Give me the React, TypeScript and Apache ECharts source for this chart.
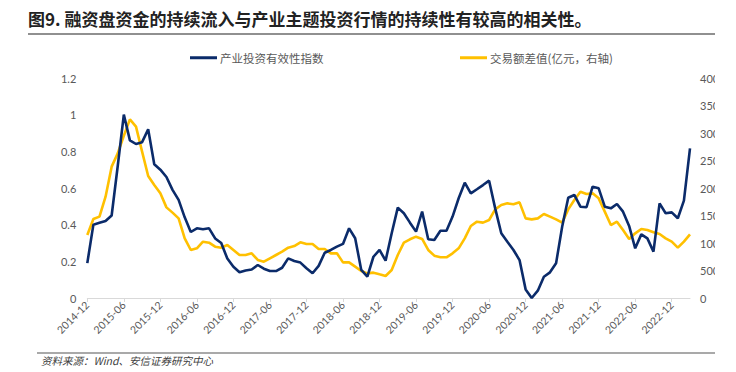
import React, { useEffect, useRef } from "react";
import * as echarts from "echarts";

const startYear = 2014;
const startMonth = 12;
const monthCount = 100;
const categories: string[] = [];
for (let k = 0; k < monthCount; k++) {
  const m = startMonth - 1 + k;
  const y = startYear + Math.floor(m / 12);
  const mm = (m % 12) + 1;
  categories.push(`${y}-${mm < 10 ? "0" + mm : mm}`);
}

const seriesNames = ["产业投资有效性指数", "交易额差值(亿元，右轴)"];

const effectiveness = [
  0.19, 0.4, 0.41, 0.42, 0.45, 0.72, 1.0, 0.86, 0.84, 0.85,
  0.92, 0.73, 0.7, 0.66, 0.59, 0.535, 0.44, 0.36, 0.38, 0.375,
  0.38, 0.325, 0.3, 0.215, 0.17, 0.14, 0.15, 0.155, 0.18, 0.16,
  0.147, 0.147, 0.165, 0.216, 0.202, 0.193, 0.162, 0.135, 0.175, 0.247,
  0.262, 0.28, 0.295, 0.38, 0.326, 0.153, 0.116, 0.225, 0.262, 0.204,
  0.353, 0.493, 0.462, 0.411, 0.362, 0.471, 0.32, 0.316, 0.367, 0.367,
  0.444, 0.544, 0.629, 0.571, 0.593, 0.616, 0.64, 0.489, 0.353, 0.307,
  0.262, 0.207, 0.047, 0.0, 0.04, 0.116, 0.14, 0.189, 0.389, 0.547,
  0.562, 0.498, 0.495, 0.607, 0.598, 0.498, 0.489, 0.513, 0.471, 0.393,
  0.271, 0.347, 0.325, 0.253, 0.516, 0.462, 0.467, 0.435, 0.531, 0.816,
];

const tradeDiff = [
  1145, 1436, 1479, 1842, 2388, 2630, 2950, 3248, 3115, 2661,
  2218, 2055, 1903, 1648, 1552, 1448, 1085, 873, 903, 1024,
  1006, 933, 915, 964, 873, 782, 782, 812, 691, 660,
  721, 782, 842, 915, 945, 1012, 982, 982, 891, 891,
  812, 812, 648, 648, 570, 491, 448, 461, 430, 400,
  509, 782, 1006, 1067, 1115, 1073, 873, 770, 740, 740,
  812, 903, 1085, 1309, 1388, 1370, 1418, 1612, 1691, 1721,
  1703, 1739, 1448, 1430, 1448, 1527, 1479, 1430, 1370, 1612,
  1782, 1933, 1891, 1903, 1812, 1570, 1327, 1388, 1236, 1073,
  1176, 1255, 1236, 1194, 1164, 1085, 1024, 915, 1024, 1158,
];

const titleText = "图9. 融资盘资金的持续流入与产业主题投资行情的持续性有较高的相关性。";
const sourceText = "资料来源：Wind、安信证券研究中心";

const BLUE = "#0b2b6a";
const YELLOW = "#ffc000";
const LABEL = "#595959";
const FONT = 'Lato, "Noto Sans CJK SC", sans-serif';

export default function App() {
  const ref = useRef<HTMLDivElement>(null);
  useEffect(() => {
    if (!ref.current) return;
    const chart = echarts.init(ref.current, null, { renderer: "svg" });
    chart.setOption({
      animation: false,
      backgroundColor: "#ffffff",
      textStyle: { fontFamily: FONT },
      graphic: [
        {
          type: "text",
          left: 28,
          top: 10,
          style: {
            text: titleText,
            fontSize: 17,
            fontWeight: "bold",
            fill: "#222222",
            fontFamily: '"Noto Sans CJK SC", sans-serif',
          },
        },
        {
          type: "line",
          shape: { x1: 28, y1: 34, x2: 715, y2: 34 },
          style: { stroke: "#6b6b6b", lineWidth: 1.5 },
        },
        {
          type: "line",
          shape: { x1: 37, y1: 353, x2: 715, y2: 353 },
          style: { stroke: "#8c8c8c", lineWidth: 1.5 },
        },
        {
          type: "text",
          left: 41,
          top: 355,
          style: {
            text: sourceText,
            fontSize: 10.5,
            fontStyle: "italic",
            fill: "#404040",
            fontFamily: '"Noto Sans CJK SC", sans-serif',
          },
        },
      ],
      legend: [
        {
          data: [seriesNames[0]],
          left: 185,
          top: 47,
          icon: "rect",
          itemWidth: 27,
          itemHeight: 3,
          textStyle: { color: LABEL, fontSize: 11.5, fontFamily: '"Noto Sans CJK SC", sans-serif', padding: [0, 0, 0, -2] },
        },
        {
          data: [seriesNames[1]],
          left: 455,
          top: 47,
          icon: "rect",
          itemWidth: 27,
          itemHeight: 3,
          textStyle: { color: LABEL, fontSize: 11.5, fontFamily: '"Noto Sans CJK SC", sans-serif', padding: [0, 0, 0, -2] },
        },
      ],
      grid: { left: 87.3, right: 25, top: 78, bottom: 74, containLabel: false, outerBoundsMode: "none" },
      xAxis: {
        type: "category",
        data: categories,
        boundaryGap: false,
        axisLine: { show: true, lineStyle: { color: "#d9d9d9", width: 1 } },
        axisTick: { show: true, interval: 5, length: 4, lineStyle: { color: "#d9d9d9" } },
        axisLabel: {
          interval: 5,
          rotate: 45,
          margin: 5,
          color: LABEL,
          fontSize: 10.5,
          fontFamily: FONT,
        },
        splitLine: { show: false },
      },
      yAxis: [
        {
          type: "value",
          min: 0,
          max: 1.2,
          interval: 0.2,
          axisLine: { show: false },
          axisTick: { show: false },
          splitLine: { show: false },
          axisLabel: { color: LABEL, fontSize: 11, margin: 11, fontFamily: FONT },
        },
        {
          type: "value",
          min: 0,
          max: 4000,
          interval: 500,
          position: "right",
          axisLine: { show: false },
          axisTick: { show: false },
          splitLine: { show: false },
          axisLabel: {
            color: LABEL,
            fontSize: 11,
            margin: 10,
            fontFamily: FONT,
            formatter: (v: number) => String(v),
          },
        },
      ],
      series: [
        {
          name: seriesNames[0],
          type: "line",
          data: effectiveness,
          yAxisIndex: 0,
          symbol: "none",
          color: BLUE,
          lineStyle: { color: BLUE, width: 2.6 },
          z: 3,
        },
        {
          name: seriesNames[1],
          type: "line",
          data: tradeDiff,
          yAxisIndex: 1,
          symbol: "none",
          color: YELLOW,
          lineStyle: { color: YELLOW, width: 2.6 },
          z: 2,
        },
      ],
    });
    return () => chart.dispose();
  }, []);
  return (
    <div style={{ position: "fixed", left: 0, top: 0, width: 736, height: 372, background: "#ffffff" }}>
      <div ref={ref} style={{ position: "absolute", left: 0, top: 0, width: 715, height: 372, overflow: "hidden" }} />
    </div>
  );
}
